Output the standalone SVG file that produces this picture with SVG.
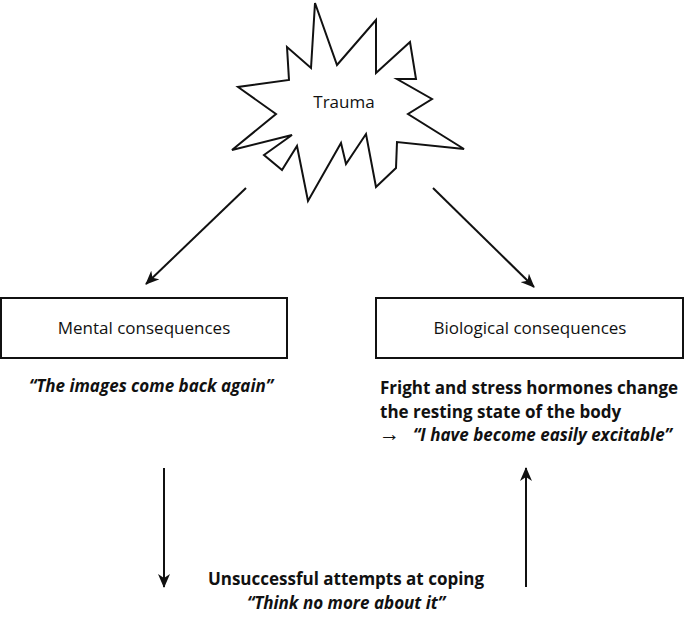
<svg xmlns="http://www.w3.org/2000/svg" width="685" height="638" viewBox="0 0 685 638">
<style>
text{font-family:"Open Sans","Liberation Sans",sans-serif;fill:#111}
.n{font-size:17px}
.b{font-size:17px;font-weight:bold}
.bi{font-size:17px;font-weight:bold;font-style:italic}
.box{fill:#fff;stroke:#111;stroke-width:2}
.c{stroke:#111;stroke-width:2;fill:none;marker-end:url(#ah)}
</style>
<defs><marker id="ah" viewBox="0 0 14 12" refX="13" refY="6" markerWidth="14" markerHeight="12" markerUnits="userSpaceOnUse" orient="auto"><path d="M0,0 L14,6 L0,12 L4,6 Z" fill="#111"/></marker></defs>
<g id="trauma">
<polygon points="315,3 337,65 376,20 376,73 410,42 416,79 397,79 432,99 408,114 464,149 397,142 396,168 376,187 366,134 346,164 341,143 308,201 297,146 282,170 264,155 292,135 232,150 276,114 238,87 289,80 287,47 311,68" fill="#fff" stroke="#111" stroke-width="2"/>
<text class="n" x="344" y="108" text-anchor="middle">Trauma</text>
</g>
<g id="connectors">
<line class="c" x1="246" y1="188" x2="146" y2="284"/>
<line class="c" x1="433" y1="188" x2="534" y2="287"/>
<line class="c" x1="164" y1="468" x2="164" y2="587"/>
<line class="c" x1="526" y1="587" x2="526" y2="468"/>
</g>
<g id="mental">
<rect class="box" x="1" y="298" width="286" height="60"/>
<text class="n" x="144" y="334" text-anchor="middle">Mental consequences</text>
<text class="bi" x="151" y="392" text-anchor="middle">“The images come back again”</text>
</g>
<g id="bio">
<rect class="box" x="376" y="298" width="307" height="60"/>
<text class="n" x="530" y="334" text-anchor="middle">Biological consequences</text>
<text class="b" x="380" y="394">Fright and stress hormones change</text>
<text class="b" x="380" y="418">the resting state of the body</text>
<text x="379" y="441" style="font-size:21px">→</text>
<text class="bi" x="413" y="441">“I have become easily excitable”</text>
</g>
<g id="coping">
<text class="b" x="346" y="585" text-anchor="middle">Unsuccessful attempts at coping</text>
<text class="bi" x="346" y="609" text-anchor="middle">“Think no more about it”</text>
</g>
</svg>
